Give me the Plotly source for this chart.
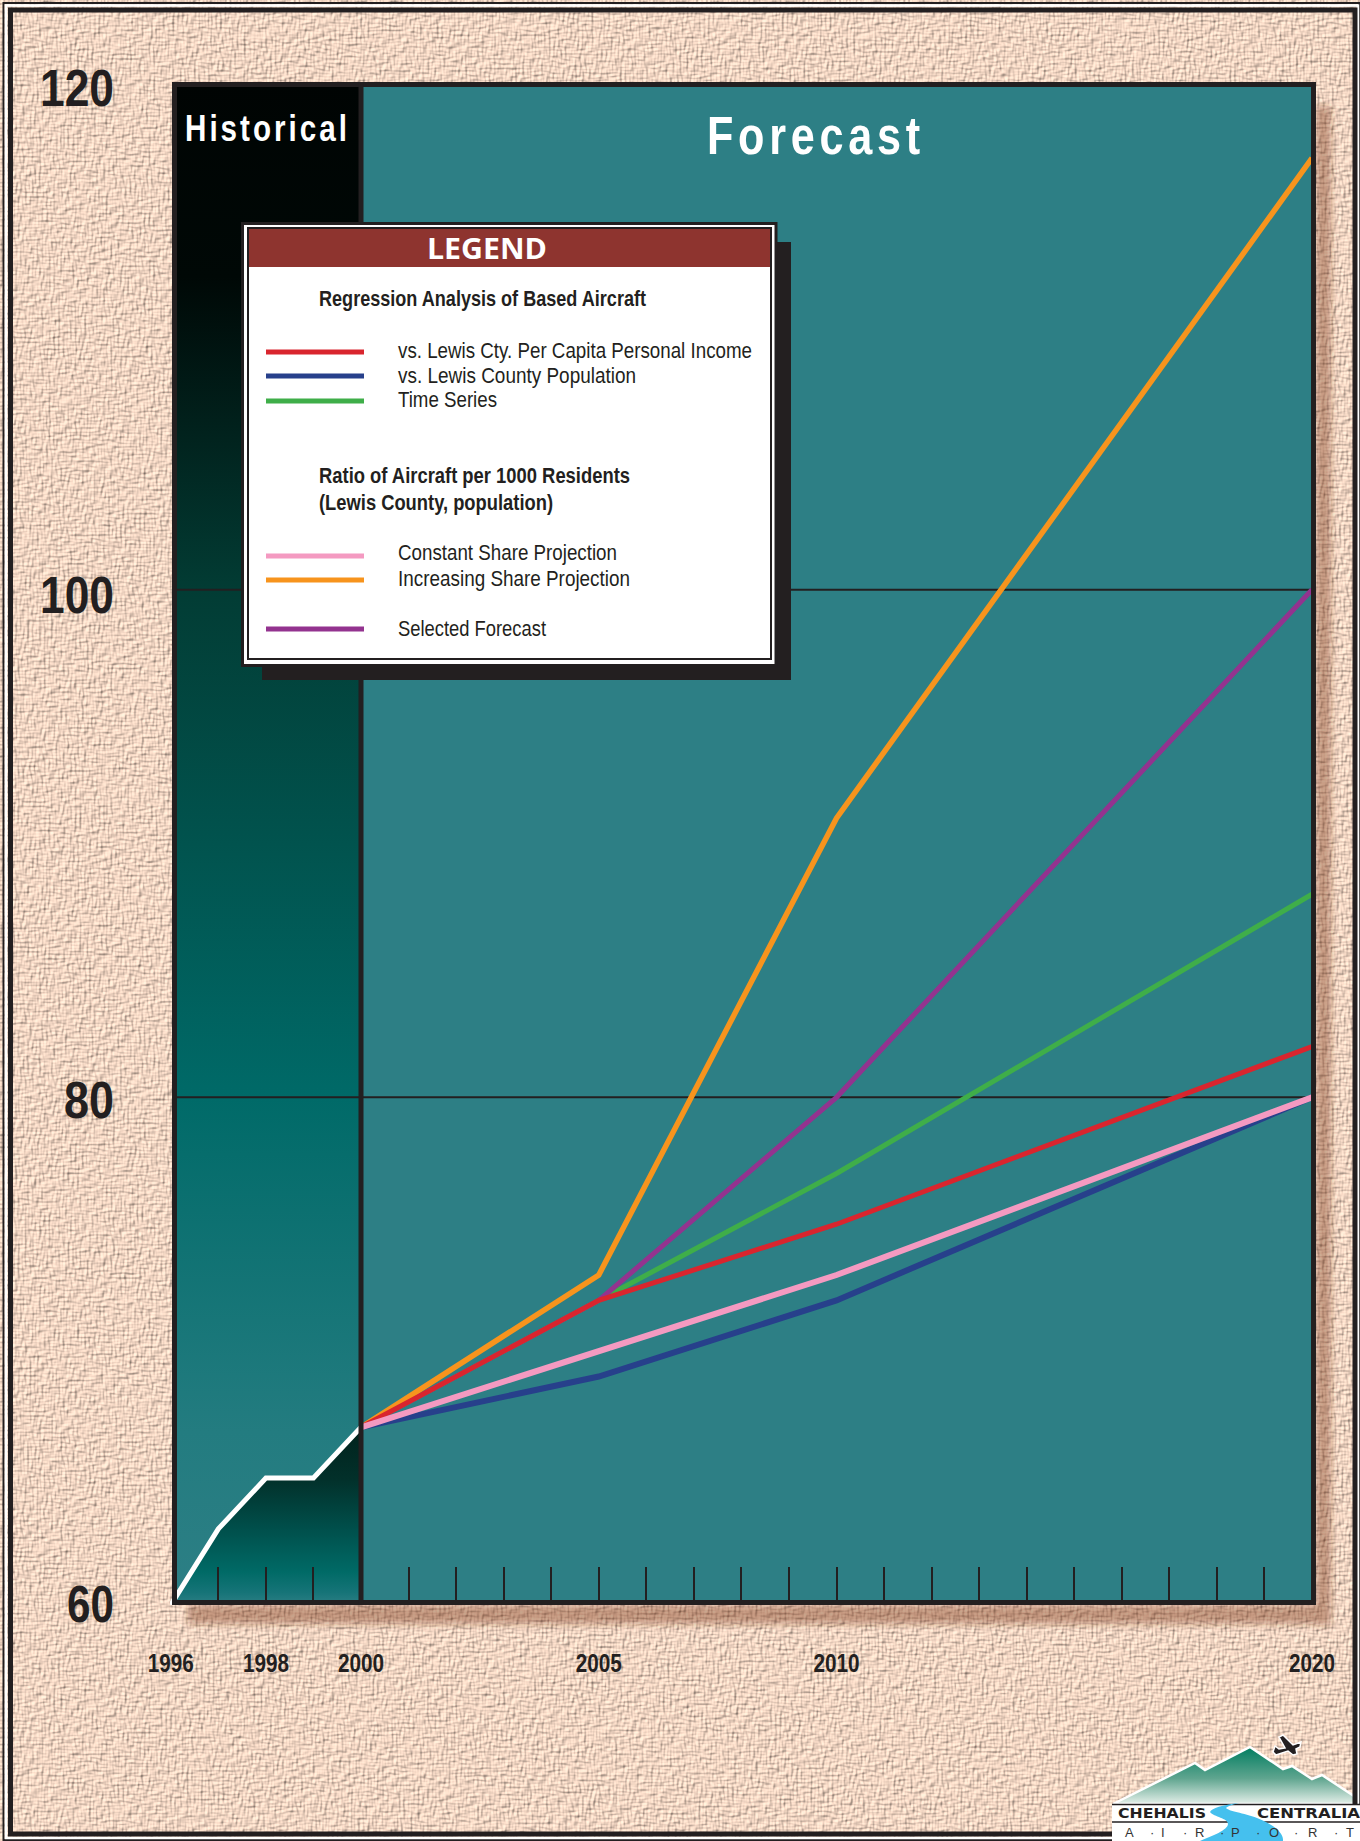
import base64
import json
import plotly.graph_objects as go

# ---- data -------------------------------------------------------------
hist_years = [1996, 1997, 1998, 1999, 2000]
hist_aircraft = [60, 63, 65, 65, 67]

fc_years = [2000, 2005, 2010, 2020]
income = [67, 72, 75, 82]
population = [67, 69, 72, 80]
time_series = [67, 72, 77, 88]
constant_share = [67, 70, 73, 80]
increasing_share = [67, 73, 91, 117]
selected = [67, 72, 80, 100]

y_ticks = [60, 80, 100, 120]
x_label_years = [1996, 1998, 2000, 2005, 2010, 2020]

RED, BLUE, GREEN = "#d9252e", "#27408b", "#3fae49"
PINK, ORANGE, PURPLE = "#f49ac1", "#f7941d", "#93338f"
INK = "#231f20"
TEAL = "#2d7f85"
SANS = "Liberation Sans, sans-serif"

W, H = 1360, 1841
# plot frame centre-lines and the extent of each axis, in page pixels
FL, FR, FT, FB = 174.5, 1313.5, 84.5, 1602.5
X_LEFT, AX_TOP, AX_BOTTOM = 170, 82, 1605
YEAR_PX = 47.55


def year_at(px):
    return 2000 + (px - 361) / YEAR_PX


RIGHT_END = year_at(FR)
LEFT_END = year_at(FL)

# ---- paper texture with the soft drop shadow of the plot frame --------
paper_svg = f"""<svg xmlns="http://www.w3.org/2000/svg" width="{W}" height="{H}" viewBox="0 0 {W} {H}">
<defs>
<filter id="weave" x="0" y="0" width="100%" height="100%" color-interpolation-filters="sRGB">
<feTurbulence type="fractalNoise" baseFrequency="0.11 0.42" numOctaves="1" seed="3" result="a"/>
<feTurbulence type="fractalNoise" baseFrequency="0.42 0.11" numOctaves="1" seed="11" result="b"/>
<feComposite in="a" in2="b" operator="arithmetic" k1="0" k2="0.5" k3="0.5" k4="0" result="c"/>
<feDiffuseLighting in="c" surfaceScale="2.0" diffuseConstant="1.16" lighting-color="#f1d5c2">
<feDistantLight azimuth="225" elevation="60"/>
</feDiffuseLighting>
</filter>
<filter id="soft" x="-20%" y="-20%" width="140%" height="140%"><feGaussianBlur stdDeviation="3.5"/></filter>
</defs>
<rect width="{W}" height="{H}" filter="url(#weave)"/>
<g filter="url(#soft)" fill="#7a3a10" fill-opacity="0.42">
<rect x="1316" y="106" width="15" height="1519"/>
<rect x="188" y="1605" width="1128" height="19"/>
</g>
</svg>"""
paper_uri = "data:image/svg+xml;base64," + base64.b64encode(paper_svg.encode()).decode()

fig = go.Figure()

# ---- panels -----------------------------------------------------------
fig.add_trace(go.Scatter(
    x=[2000, RIGHT_END], y=[120, 120], fill="tozeroy", fillcolor=TEAL,
    mode="lines", line=dict(width=0), hoverinfo="skip"))
fig.add_trace(go.Scatter(
    x=[LEFT_END, 2000], y=[120, 120], fill="tozeroy", mode="lines", line=dict(width=0),
    hoverinfo="skip",
    fillgradient=dict(type="vertical", start=60, stop=120, colorscale=[
        [0, "#2d7f85"], [0.114, "#237c80"], [0.333, "#006a68"],
        [0.667, "#023c34"], [0.872, "#000806"], [1, "#000403"]])))

# reference lines at 80 and 100
for level in (80, 100):
    fig.add_trace(go.Scatter(x=[LEFT_END, RIGHT_END], y=[level, level], mode="lines",
                             line=dict(color=INK, width=2), hoverinfo="skip"))

# historical based aircraft
fig.add_trace(go.Scatter(
    x=hist_years, y=hist_aircraft, fill="tozeroy", mode="lines",
    line=dict(color="white", width=5),
    fillgradient=dict(type="vertical", start=60, stop=67, colorscale=[
        [0, "#2d7f85"], [0.07, "#167478"], [0.186, "#006a66"],
        [0.43, "#004f4b"], [0.71, "#02302a"], [1, "#01221c"]])))

# forecasts
for series, colour, weight in [(time_series, GREEN, 5), (selected, PURPLE, 5), (increasing_share, ORANGE, 5.5),
                               (income, RED, 5), (population, BLUE, 6), (constant_share, PINK, 6)]:
    fig.add_trace(go.Scatter(x=fc_years, y=series, mode="lines",
                             line=dict(color=colour, width=weight)))

# ---- logo, on a page-pixel subplot ------------------------------------
fig.add_trace(go.Scatter(
    x=[1113, 1195, 1205, 1250, 1283, 1292, 1312, 1322, 1360, 1360, 1113],
    y=[1804, 1763, 1770, 1747, 1769, 1766, 1779, 1775, 1800, 1804, 1804],
    xaxis="x2", yaxis="y2", fill="toself", mode="lines",
    line=dict(color="white", width=2.5),
    fillgradient=dict(type="vertical", start=1804, stop=1747, colorscale=[
        [0, "#e4efe9"], [0.45, "#5fa58f"], [1, "#007d60"]])))

layout_shapes = []


def rect(x0, y0, x1, y1, fill, line=None, width=0):
    layout_shapes.append(dict(
        type="rect", xref="x2", yref="y2", x0=x0, y0=y0, x1=x1, y1=y1, layer="above",
        fillcolor=fill, line=dict(color=line or fill, width=width)))


def hline(x0, x1, y, colour, width):
    layout_shapes.append(dict(
        type="line", xref="x2", yref="y2", x0=x0, x1=x1, y0=y, y1=y, layer="above",
        line=dict(color=colour, width=width)))


# page border, double rule
rect(3.5, 3, 1359, 1840, "rgba(0,0,0,0)", INK, 2)
rect(6, 5.5, 1358, 1838, "rgba(0,0,0,0)", "white", 2.5)
rect(10.5, 10, 1355, 1834, "rgba(0,0,0,0)", INK, 5)

# plot frame and the split between history and forecast
rect(FL, FT, FR, FB, "rgba(0,0,0,0)", INK, 5)
layout_shapes.append(dict(type="line", xref="x", yref="y", x0=2000, x1=2000, y0=60, y1=120,
                          layer="above", line=dict(color=INK, width=5)))

# legend box
rect(262, 242, 791, 680, INK)
rect(241, 222, 777.5, 667, INK)
rect(244, 225, 774.5, 664, "white")
rect(247, 227, 772, 660, INK)
rect(249, 229, 770, 658, "white")
rect(249, 229, 770, 267, "#8e342f")
for y, colour in [(352, RED), (376, BLUE), (401, GREEN), (556, PINK), (580, ORANGE), (629, PURPLE)]:
    hline(266, 364, y, colour, 5)

# logo plate
rect(1112, 1804, 1360, 1841, "white")
hline(1112, 1360, 1804.5, INK, 1.5)
hline(1112, 1360, 1822, INK, 1.5)
layout_shapes.append(dict(
    type="path", xref="x2", yref="y2", layer="above", fillcolor=INK,
    line=dict(color="white", width=1.5),
    path="M1273,1752 L1275,1746 L1279,1749 L1285,1748 L1279,1737 L1283,1735 L1293,1745 "
         "L1301,1742 L1300,1747 L1296,1749 L1297,1754 L1293,1755 L1288,1751 L1279,1754 L1276,1755 Z"))
layout_shapes.append(dict(
    type="path", xref="x2", yref="y2", layer="above", fillcolor="#45c0ee",
    line=dict(width=0),
    path="M1239,1803 C1222,1805 1212,1808 1210,1812 C1214,1817 1228,1818 1228,1824 "
         "C1228,1830 1212,1836 1200,1841 L1283,1841 C1284,1832 1272,1824 1257,1818 "
         "C1244,1813 1228,1811 1226,1808 C1228,1806 1234,1804 1239,1803 Z"))

# ---- text -------------------------------------------------------------
notes = []
# set widths for the condensed lettering, in pixels
set_width = {}


def text(x, y, s, size, width=None, colour=INK, family=SANS, bold=False, anchor="left"):
    notes.append(dict(
        xref="x2", yref="y2", x=x, y=y, text=s, showarrow=False, borderpad=0, borderwidth=0,
        xanchor=anchor, yanchor="middle", align="left",
        font=dict(family=family, size=size, color=colour, weight="bold" if bold else "normal")))
    if width:
        set_width[s] = width


text(184.5, 128, "Historical", 37, 165, "white", bold=True)
text(707, 135, "Forecast", 54, 218, "white", bold=True)
text(427, 247, "LEGEND", 29, 120, "white", family="Open Sans, sans-serif", bold=True)

text(319, 298.5, "Regression Analysis of Based Aircraft", 22, 327, bold=True)
text(398, 350, "vs. Lewis Cty. Per Capita Personal Income", 22, 354)
text(398, 375, "vs. Lewis County Population", 22, 238)
text(398, 399.5, "Time Series", 22, 99)
text(319, 475.5, "Ratio of Aircraft per 1000 Residents", 22, 311, bold=True)
text(319, 502, "(Lewis County, population)", 22, 234, bold=True)
text(398, 552.5, "Constant Share Projection", 22, 219)
text(398, 578.5, "Increasing Share Projection", 22, 232)
text(398, 628, "Selected Forecast", 22, 148)

text(1118, 1813, "CHEHALIS", 14, 88, family="DejaVu Sans, sans-serif", bold=True)
text(1257, 1813, "CENTRALIA", 14, 103, family="DejaVu Sans, sans-serif", bold=True)
for x, ch in [(1129, "A"), (1152, "·"), (1163, "I"), (1185, "·"), (1199, "R"), (1222, "·"),
              (1235, "P"), (1258, "·"), (1274, "O"), (1296, "·"), (1312, "R"), (1336, "·"), (1350, "T")]:
    text(x, 1832, ch, 13, colour="#333333", anchor="center")

y_label_width = {"120": 74, "100": 74, "80": 50, "60": 47}
y_label_nudge = {"120": 6, "100": 5.5, "80": 2.5, "60": -1}
year_width = {str(v): 46 for v in x_label_years}
tracked = ["Historical", "Forecast"]

fig.update_layout(
    width=W, height=H, autosize=False,
    margin=dict(l=0, r=0, t=0, b=0, pad=0, autoexpand=False),
    showlegend=False, hovermode=False,
    paper_bgcolor="#efd3bf", plot_bgcolor="rgba(0,0,0,0)",
    images=[dict(source=paper_uri, xref="paper", yref="paper", x=0, y=1, sizex=1, sizey=1,
                 xanchor="left", yanchor="top", sizing="stretch", layer="below")],
    shapes=layout_shapes, annotations=notes,
    xaxis=dict(
        domain=[X_LEFT / W, FR / W], range=[year_at(X_LEFT), RIGHT_END],
        anchor="y",
        tickmode="array", tickvals=x_label_years, ticktext=[str(v) for v in x_label_years],
        ticks="inside", ticklen=38, tickwidth=2, tickcolor=INK,
        minor=dict(dtick=1, tick0=1996, ticks="inside", ticklen=38, tickwidth=2, tickcolor=INK),
        tickfont=dict(family=SANS, size=25, color=INK, weight="bold"), ticklabelstandoff=41,
        showgrid=False, zeroline=False, showline=False),
    yaxis=dict(
        domain=[1 - AX_BOTTOM / H, 1 - AX_TOP / H], range=[60, 120], anchor="x",
        tickmode="array", tickvals=y_ticks, ticks="", showgrid=False, zeroline=False,
        tickfont=dict(family=SANS, size=51, color=INK, weight="bold"), ticklabelstandoff=55,
        showline=False),
    xaxis2=dict(domain=[0, 1], range=[0, W], anchor="y2", visible=False),
    yaxis2=dict(domain=[0, 1], range=[H, 0], anchor="x2", visible=False),
)

# condensed lettering: squeeze real text to its set width; the two panel
# headings are narrowed further and opened up with tracking
fit_text = """
var labelWidths = %s, yWidths = %s, yNudge = %s, xWidths = %s, tracked = %s;
function squeeze(t, w) {
  t.setAttribute('textLength', w);
  t.setAttribute('lengthAdjust', 'spacingAndGlyphs');
}
document.querySelectorAll('.annotation-text').forEach(function (t) {
  var s = t.textContent, w = labelWidths[s];
  if (!w) { return; }
  var left = t.getBBox().x;
  t.setAttribute('text-anchor', 'start');
  t.setAttribute('x', left);
  if (tracked.indexOf(s) >= 0) {
    var sx = 0.8, natural = t.getComputedTextLength();
    t.style.letterSpacing = ((w / sx - natural) / s.length) + 'px';
    t.setAttribute('transform', 'translate(' + (left * (1 - sx)) + ',0) scale(' + sx + ',1)');
  } else {
    squeeze(t, w);
  }
});
document.querySelectorAll('.ytick text').forEach(function (t) {
  var s = t.textContent;
  if (yWidths[s]) { squeeze(t, yWidths[s]); t.setAttribute('dy', yNudge[s]); }
});
document.querySelectorAll('.xtick text').forEach(function (t) {
  if (xWidths[t.textContent]) { squeeze(t, xWidths[t.textContent]); }
});
""" % (json.dumps(set_width), json.dumps(y_label_width), json.dumps(y_label_nudge),
       json.dumps(year_width), json.dumps(tracked))
fig.write_html("out.html", post_script=fit_text)
